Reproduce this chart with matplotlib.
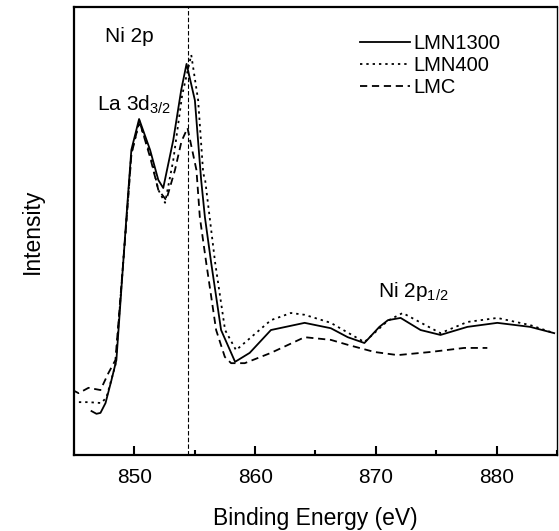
"""Ni 2p XPS spectra of LMN1300, LMN400 and LMC."""

import matplotlib

matplotlib.use("Agg")
import matplotlib.pyplot as plt
from matplotlib.ticker import MultipleLocator

plt.rcParams["font.family"] = ["Liberation Sans", "DejaVu Sans"]

# binding energy (eV) / intensity (a.u.)
lmn1300_e = [846.45, 846.86, 847.19, 847.61, 848.10, 848.51, 849.34, 849.75, 850.39,
             851.30, 851.98, 852.39, 853.22, 853.88, 854.32, 855.01, 855.53, 855.84,
             856.36, 857.18, 858.34, 859.55, 861.31, 864.10, 866.27, 867.67, 869.05,
             870.29, 871.00, 872.05, 873.70, 875.35, 877.58, 880.06, 882.78, 884.77]
lmn1300_i = [0.098, 0.092, 0.094, 0.116, 0.167, 0.212, 0.531, 0.681, 0.750,
             0.681, 0.614, 0.596, 0.703, 0.815, 0.873, 0.792, 0.614, 0.531,
             0.429, 0.279, 0.208, 0.228, 0.279, 0.295, 0.283, 0.263, 0.250,
             0.286, 0.301, 0.306, 0.279, 0.268, 0.286, 0.295, 0.286, 0.272]

lmn400_e = [844.88, 846.20, 847.27, 847.69, 848.43, 849.34, 849.75, 850.41, 851.32,
            851.98, 852.54, 853.22, 853.96, 854.71, 855.28, 855.70, 855.86, 856.69,
            857.51, 858.42, 859.41, 861.31, 862.96, 864.10, 866.27, 869.05, 871.00,
            872.22, 875.35, 877.58, 880.06, 882.78, 884.77]
lmn400_i = [0.118, 0.118, 0.116, 0.129, 0.201, 0.525, 0.674, 0.743, 0.670,
            0.592, 0.563, 0.658, 0.804, 0.893, 0.792, 0.629, 0.614, 0.429,
            0.279, 0.234, 0.257, 0.301, 0.317, 0.313, 0.295, 0.252, 0.300,
            0.317, 0.272, 0.297, 0.306, 0.290, 0.272]

lmc_e = [844.88, 845.38, 846.20, 847.19, 847.85, 848.43, 849.34, 849.75, 850.41,
         851.32, 851.98, 852.64, 853.36, 853.90, 854.40, 855.14, 855.42, 855.95,
         856.77, 857.49, 858.01, 859.14, 861.31, 864.10, 866.27, 867.67, 869.88,
         871.80, 874.53, 877.31, 879.23]
lmc_i = [0.145, 0.138, 0.150, 0.145, 0.183, 0.212, 0.520, 0.670, 0.746,
         0.663, 0.592, 0.569, 0.636, 0.700, 0.730, 0.636, 0.531, 0.429,
         0.279, 0.219, 0.205, 0.205, 0.228, 0.263, 0.257, 0.246, 0.230,
         0.223, 0.230, 0.239, 0.239]

ni_2p32_position = 854.4

fig = plt.figure(figsize=(5.59, 5.31), dpi=100)
ax = fig.add_axes([0.1324, 0.1431, 0.8640, 0.8437])

ax.plot(lmn1300_e, lmn1300_i, color="black", lw=1.3, ls="-", label="LMN1300")
ax.plot(lmn400_e, lmn400_i, color="black", lw=1.3, ls=(0, (1.3, 2.2)), label="LMN400")
ax.plot(lmc_e, lmc_i, color="black", lw=1.3, ls=(0, (4, 2.6)), label="LMC")
ax.axvline(ni_2p32_position, color="black", lw=0.8, ls=(0, (4, 2)))

ax.set_xlim(845, 885)
ax.set_ylim(0, 1)
ax.xaxis.set_major_locator(MultipleLocator(10))
ax.xaxis.set_minor_locator(MultipleLocator(5))
ax.tick_params(axis="x", which="major", direction="in", length=6.5, width=1.5,
               labelsize=15, pad=9)
ax.tick_params(axis="x", which="minor", direction="in", length=3.5, width=1.5)
ax.set_yticks([])
for side in ("left", "bottom", "top"):
    ax.spines[side].set_linewidth(1.6)
ax.spines["right"].set_linewidth(1.0)

ax.set_xlabel("Binding Energy (eV)", fontsize=16.5, labelpad=15)
ax.set_ylabel("Intensity", fontsize=16.5, labelpad=22)

ax.text(847.58, 0.9225, "Ni 2p", fontsize=15, va="baseline", ha="left")
ax.text(846.89, 0.770, r"La 3d$_{\mathregular{3/2}}$", fontsize=15, va="baseline", ha="left")
ax.text(870.15, 0.353, r"Ni 2p$_{\mathregular{1/2}}$", fontsize=15, va="baseline", ha="left")

ax.legend(loc="upper left", bbox_to_anchor=(0.592, 0.94), frameon=False,
          fontsize=14.5, handlelength=2.5, handletextpad=0.15, labelspacing=0.15,
          borderpad=0, borderaxespad=0)

fig.savefig("out.png", dpi=100)
